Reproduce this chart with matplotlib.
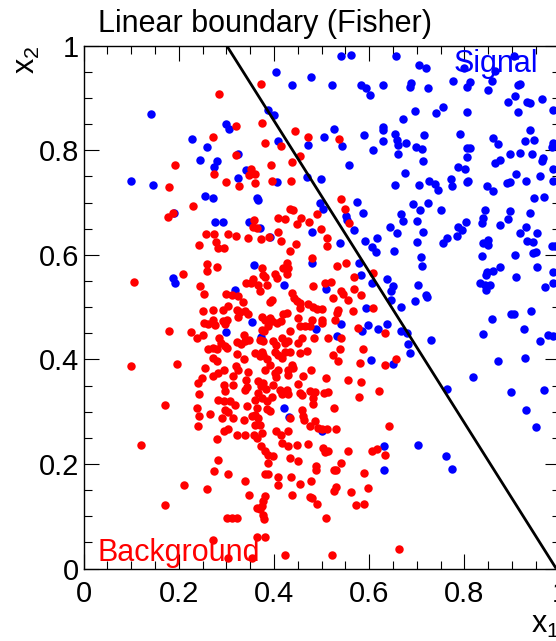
import matplotlib
matplotlib.use('Agg')
import matplotlib.pyplot as plt
from matplotlib.ticker import MultipleLocator

plt.rcParams['font.family'] = ['Liberation Sans', 'DejaVu Sans']
plt.rcParams['mathtext.fontset'] = 'custom'
plt.rcParams['mathtext.rm'] = 'Liberation Sans'
plt.rcParams['mathtext.it'] = 'Liberation Sans'
plt.rcParams['mathtext.default'] = 'regular'

title = 'Linear boundary (Fisher)'
x_label = 'x$_{1}$'
y_label = 'x$_{2}$'
signal_label = 'Signal'
background_label = 'Background'

x_ticks = [0, 0.2, 0.4, 0.6, 0.8, 1.0]
x_tick_labels = ['0', '0.2', '0.4', '0.6', '0.8', '1']
y_ticks = [0, 0.2, 0.4, 0.6, 0.8, 1.0]
y_tick_labels = ['0', '0.2', '0.4', '0.6', '0.8', '1']

# Fisher linear decision boundary (end points in data units)
fisher_x = [0.301, 0.993]
fisher_y = [1.0, 0.0]

# Signal events (x1, x2)
signal_pts = [
    (0.540, 0.981), (0.561, 0.982), (0.404, 0.950), (0.477, 0.941), (0.438, 0.924), (0.523, 0.925), (0.584, 0.925),
    (0.593, 0.920), (0.602, 0.906), (0.141, 0.870), (0.388, 0.878), (0.401, 0.868), (0.299, 0.851), (0.306, 0.841),
    (0.227, 0.822), (0.260, 0.806), (0.409, 0.817), (0.472, 0.811), (0.505, 0.825), (0.526, 0.841), (0.544, 0.809),
    (0.589, 0.829), (0.608, 0.801), (0.245, 0.782), (0.281, 0.779), (0.275, 0.768), (0.325, 0.792), (0.341, 0.762),
    (0.558, 0.771), (0.100, 0.742), (0.146, 0.733), (0.325, 0.747), (0.406, 0.739), (0.470, 0.748), (0.498, 0.746),
    (0.255, 0.712), (0.271, 0.709), (0.365, 0.709), (0.367, 0.704), (0.191, 0.681), (0.497, 0.699), (0.504, 0.688),
    (0.575, 0.701), (0.587, 0.680), (0.551, 0.674), (0.553, 0.667), (0.277, 0.662), (0.294, 0.662), (0.348, 0.663),
    (0.371, 0.651), (0.569, 0.648),
    (0.657, 0.981), (0.705, 0.963), (0.720, 0.957), (0.800, 0.957), (0.905, 0.980), (0.864, 0.951), (0.629, 0.924),
    (0.689, 0.929), (0.686, 0.922), (0.724, 0.920), (0.777, 0.932), (0.806, 0.922), (0.813, 0.930), (0.858, 0.932),
    (0.850, 0.916), (0.913, 0.925), (0.917, 0.927), (0.907, 0.904), (0.892, 0.893), (0.931, 0.892), (0.938, 0.890),
    (0.963, 0.899), (0.913, 0.874), (0.987, 0.878), (0.696, 0.876), (0.756, 0.883), (0.741, 0.871), (0.806, 0.874),
    (0.672, 0.860), (0.630, 0.845), (0.630, 0.838), (0.629, 0.818), (0.654, 0.832), (0.658, 0.820), (0.661, 0.810),
    (0.678, 0.814), (0.716, 0.829), (0.791, 0.832), (0.861, 0.823), (0.871, 0.813), (0.937, 0.839), (0.928, 0.817),
    (0.947, 0.819), (0.987, 0.814), (0.984, 0.807), (0.661, 0.792), (0.699, 0.806), (0.711, 0.802), (0.713, 0.780),
    (0.805, 0.804), (0.812, 0.804), (0.806, 0.787), (0.896, 0.792), (0.917, 0.795), (0.942, 0.792), (0.965, 0.785),
    (0.963, 0.779), (0.865, 0.776), (0.874, 0.781), (0.787, 0.768), (0.801, 0.764), (0.675, 0.757), (0.654, 0.734),
    (0.705, 0.734), (0.726, 0.742), (0.738, 0.736), (0.745, 0.725), (0.771, 0.746), (0.775, 0.731), (0.806, 0.739),
    (0.808, 0.742), (0.847, 0.732), (0.860, 0.723), (0.889, 0.737), (0.895, 0.739), (0.908, 0.754), (0.929, 0.742),
    (0.959, 0.750), (0.986, 0.764), (0.987, 0.742), (0.946, 0.709), (0.968, 0.710), (0.693, 0.698), (0.724, 0.699),
    (0.707, 0.685), (0.668, 0.679), (0.672, 0.664), (0.701, 0.664), (0.751, 0.685), (0.843, 0.686), (0.840, 0.671),
    (0.837, 0.661), (0.804, 0.662), (0.787, 0.654), (0.875, 0.658), (0.892, 0.669), (0.896, 0.683), (0.938, 0.681),
    (0.930, 0.654), (0.644, 0.653),
    (0.652, 0.608), (0.713, 0.643), (0.701, 0.625), (0.708, 0.596), (0.711, 0.579), (0.756, 0.623), (0.763, 0.632),
    (0.784, 0.637), (0.795, 0.648), (0.658, 0.642), (0.837, 0.598), (0.840, 0.623), (0.850, 0.629), (0.850, 0.618),
    (0.916, 0.642), (0.952, 0.642), (0.932, 0.626), (0.945, 0.624), (0.984, 0.616), (0.991, 0.616), (0.945, 0.604),
    (0.950, 0.605), (0.907, 0.600), (0.953, 0.577), (0.986, 0.568), (0.876, 0.577), (0.861, 0.570), (0.848, 0.567),
    (0.846, 0.562), (0.833, 0.547), (0.843, 0.543), (0.846, 0.533), (0.854, 0.543), (0.909, 0.558), (0.970, 0.539),
    (0.987, 0.546), (0.637, 0.554), (0.651, 0.540), (0.647, 0.530), (0.645, 0.513), (0.703, 0.543), (0.720, 0.524),
    (0.721, 0.519), (0.696, 0.512), (0.668, 0.500), (0.858, 0.477), (0.898, 0.486), (0.905, 0.486), (0.940, 0.492),
    (0.926, 0.459), (0.839, 0.449), (0.960, 0.435), (0.976, 0.447), (0.986, 0.444), (0.731, 0.438), (0.638, 0.468),
    (0.668, 0.454), (0.679, 0.451), (0.681, 0.430), (0.686, 0.412), (0.650, 0.391), (0.871, 0.396), (0.928, 0.403),
    (0.819, 0.367), (0.898, 0.337), (0.968, 0.342), (0.764, 0.344), (0.929, 0.304), (0.951, 0.271),
    (0.631, 0.235), (0.631, 0.189), (0.703, 0.237), (0.762, 0.215), (0.775, 0.191),
    (0.189, 0.556), (0.192, 0.547), (0.392, 0.635), (0.358, 0.581), (0.318, 0.533), (0.422, 0.543), (0.355, 0.472),
    (0.299, 0.452), (0.373, 0.442), (0.479, 0.644), (0.539, 0.623), (0.591, 0.626), (0.607, 0.615), (0.614, 0.606),
    (0.617, 0.632), (0.481, 0.585), (0.579, 0.585), (0.584, 0.562), (0.607, 0.546), (0.509, 0.535), (0.593, 0.498),
    (0.541, 0.468), (0.598, 0.465), (0.586, 0.455), (0.619, 0.459), (0.488, 0.459), (0.532, 0.444), (0.605, 0.398),
    (0.422, 0.307), (0.432, 0.290), (0.500, 0.263),
]

# Background events (x1, x2)
background_pts = [
    (0.373, 0.927), (0.285, 0.908), (0.320, 0.846), (0.375, 0.852), (0.444, 0.836), (0.472, 0.825), (0.537, 0.822),
    (0.271, 0.825), (0.382, 0.814), (0.414, 0.809), (0.320, 0.791), (0.455, 0.790), (0.193, 0.772), (0.393, 0.771),
    (0.437, 0.778), (0.274, 0.755), (0.352, 0.765), (0.348, 0.753), (0.360, 0.755), (0.299, 0.739), (0.326, 0.731),
    (0.361, 0.737), (0.397, 0.742), (0.435, 0.742), (0.180, 0.730), (0.231, 0.693), (0.178, 0.672), (0.187, 0.680),
    (0.541, 0.707), (0.549, 0.688), (0.558, 0.660), (0.434, 0.688), (0.441, 0.686), (0.409, 0.671), (0.423, 0.668),
    (0.457, 0.671), (0.448, 0.659), (0.474, 0.663), (0.491, 0.678), (0.358, 0.666), (0.357, 0.654), (0.364, 0.651),
    (0.498, 0.650),
    (0.633, 0.451), (0.657, 0.400), (0.633, 0.389), (0.642, 0.272), (0.633, 0.217), (0.663, 0.038),
    (0.106, 0.548), (0.100, 0.387), (0.179, 0.454), (0.171, 0.312), (0.121, 0.237), (0.171, 0.122),
    (0.346, 0.632), (0.373, 0.631), (0.390, 0.635), (0.409, 0.644), (0.415, 0.626), (0.257, 0.639), (0.274, 0.640),
    (0.304, 0.640), (0.320, 0.637), (0.243, 0.618), (0.278, 0.624), (0.283, 0.613), (0.296, 0.613), (0.259, 0.583),
    (0.259, 0.570), (0.280, 0.577), (0.210, 0.564), (0.376, 0.575), (0.378, 0.562), (0.381, 0.557), (0.402, 0.564),
    (0.406, 0.556), (0.420, 0.574), (0.357, 0.553), (0.341, 0.546), (0.352, 0.546), (0.367, 0.543), (0.371, 0.530),
    (0.385, 0.542), (0.245, 0.540), (0.254, 0.525), (0.300, 0.525), (0.311, 0.524), (0.325, 0.521), (0.336, 0.509),
    (0.392, 0.510), (0.395, 0.514), (0.250, 0.492), (0.271, 0.495), (0.294, 0.495), (0.303, 0.503), (0.322, 0.495),
    (0.329, 0.491), (0.339, 0.492), (0.346, 0.486), (0.325, 0.482), (0.254, 0.470), (0.273, 0.476), (0.276, 0.465),
    (0.294, 0.473), (0.297, 0.467), (0.301, 0.476), (0.262, 0.467), (0.374, 0.482), (0.381, 0.476), (0.392, 0.480),
    (0.395, 0.473), (0.388, 0.463), (0.380, 0.454), (0.374, 0.457), (0.406, 0.470), (0.415, 0.474), (0.420, 0.487),
    (0.226, 0.453), (0.238, 0.440), (0.250, 0.447), (0.285, 0.440), (0.289, 0.432), (0.297, 0.425), (0.301, 0.421),
    (0.338, 0.447), (0.339, 0.435), (0.348, 0.438), (0.322, 0.433), (0.331, 0.430), (0.378, 0.435), (0.371, 0.438),
    (0.399, 0.436), (0.404, 0.428), (0.416, 0.441), (0.262, 0.419), (0.273, 0.421), (0.280, 0.419), (0.322, 0.411),
    (0.338, 0.401), (0.360, 0.412), (0.371, 0.406), (0.374, 0.415), (0.378, 0.409), (0.385, 0.401), (0.402, 0.415),
    (0.409, 0.409), (0.416, 0.403), (0.271, 0.403), (0.280, 0.396), (0.196, 0.391), (0.255, 0.384), (0.283, 0.374),
    (0.296, 0.380), (0.320, 0.387), (0.325, 0.380), (0.381, 0.380), (0.392, 0.390), (0.402, 0.374), (0.409, 0.380),
    (0.346, 0.375),
    (0.511, 0.633), (0.512, 0.616), (0.446, 0.620), (0.434, 0.607), (0.481, 0.594), (0.551, 0.585), (0.532, 0.579),
    (0.427, 0.585), (0.429, 0.575), (0.427, 0.563), (0.568, 0.557), (0.608, 0.565), (0.507, 0.546), (0.520, 0.548),
    (0.483, 0.540), (0.542, 0.530), (0.546, 0.525), (0.568, 0.535), (0.583, 0.524), (0.525, 0.518), (0.556, 0.514),
    (0.437, 0.527), (0.443, 0.518), (0.448, 0.512), (0.455, 0.508), (0.455, 0.498), (0.472, 0.506), (0.483, 0.500),
    (0.490, 0.497), (0.500, 0.497), (0.535, 0.495), (0.532, 0.489), (0.567, 0.492), (0.609, 0.498), (0.427, 0.489),
    (0.451, 0.480), (0.481, 0.476), (0.502, 0.476), (0.502, 0.470), (0.528, 0.476), (0.455, 0.463), (0.465, 0.463),
    (0.476, 0.463), (0.434, 0.454), (0.576, 0.461), (0.430, 0.435), (0.451, 0.432), (0.458, 0.441), (0.485, 0.441),
    (0.513, 0.440), (0.541, 0.440), (0.423, 0.415), (0.434, 0.415), (0.455, 0.412), (0.469, 0.417), (0.587, 0.419),
    (0.539, 0.419), (0.524, 0.409), (0.535, 0.396), (0.581, 0.393), (0.437, 0.390), (0.441, 0.384), (0.430, 0.380),
    (0.478, 0.379), (0.423, 0.432),
    (0.248, 0.365), (0.241, 0.355), (0.273, 0.368), (0.315, 0.368), (0.341, 0.361), (0.367, 0.358), (0.378, 0.355),
    (0.399, 0.352), (0.315, 0.352), (0.295, 0.352), (0.297, 0.339), (0.339, 0.342), (0.343, 0.347), (0.373, 0.349),
    (0.383, 0.344), (0.243, 0.333), (0.366, 0.336), (0.376, 0.326), (0.413, 0.342), (0.418, 0.333), (0.404, 0.366),
    (0.283, 0.323), (0.296, 0.321), (0.308, 0.320), (0.318, 0.312), (0.360, 0.323), (0.385, 0.320), (0.395, 0.329),
    (0.364, 0.307), (0.385, 0.306), (0.392, 0.301), (0.343, 0.310), (0.238, 0.308), (0.266, 0.296), (0.243, 0.291),
    (0.297, 0.304), (0.304, 0.300), (0.290, 0.288), (0.315, 0.288), (0.353, 0.291), (0.360, 0.294), (0.367, 0.288),
    (0.337, 0.284), (0.240, 0.272), (0.360, 0.275), (0.371, 0.274), (0.295, 0.264), (0.304, 0.267), (0.404, 0.263),
    (0.415, 0.256), (0.322, 0.255), (0.339, 0.255), (0.359, 0.256), (0.364, 0.250), (0.376, 0.259), (0.280, 0.247),
    (0.418, 0.240), (0.373, 0.234), (0.381, 0.224), (0.388, 0.218), (0.399, 0.215), (0.387, 0.202), (0.282, 0.208),
    (0.275, 0.187), (0.303, 0.181), (0.381, 0.180), (0.388, 0.181), (0.409, 0.176), (0.409, 0.159), (0.211, 0.159),
    (0.259, 0.153), (0.339, 0.167), (0.348, 0.141), (0.381, 0.138), (0.378, 0.129), (0.376, 0.119), (0.364, 0.116),
    (0.371, 0.113), (0.378, 0.103), (0.380, 0.094), (0.301, 0.097), (0.311, 0.096), (0.322, 0.097), (0.271, 0.054),
    (0.364, 0.061), (0.381, 0.060), (0.304, 0.020), (0.353, 0.020), (0.423, 0.025),
    (0.509, 0.365), (0.556, 0.361), (0.584, 0.357), (0.621, 0.339), (0.579, 0.329), (0.527, 0.307), (0.514, 0.338),
    (0.506, 0.336), (0.607, 0.224), (0.617, 0.229), (0.556, 0.224), (0.542, 0.201), (0.590, 0.182), (0.598, 0.154),
    (0.563, 0.146), (0.572, 0.122), (0.590, 0.124), (0.509, 0.096), (0.521, 0.025), (0.526, 0.189), (0.530, 0.188),
    (0.527, 0.148), (0.530, 0.156), (0.488, 0.196), (0.488, 0.189), (0.491, 0.124), (0.476, 0.137), (0.481, 0.134),
    (0.477, 0.167), (0.455, 0.161), (0.439, 0.140), (0.435, 0.176), (0.434, 0.212), (0.451, 0.206), (0.449, 0.237),
    (0.471, 0.238), (0.430, 0.234), (0.504, 0.231), (0.507, 0.223), (0.514, 0.224), (0.430, 0.264), (0.476, 0.272),
    (0.486, 0.282), (0.493, 0.269), (0.500, 0.266), (0.512, 0.266), (0.530, 0.267), (0.458, 0.304), (0.462, 0.291),
    (0.464, 0.285), (0.434, 0.288), (0.483, 0.315), (0.476, 0.339), (0.486, 0.338), (0.483, 0.326), (0.455, 0.336),
    (0.458, 0.331), (0.451, 0.353), (0.427, 0.342), (0.429, 0.333), (0.462, 0.368), (0.430, 0.370),
]

sig_x = [p[0] for p in signal_pts]
sig_y = [p[1] for p in signal_pts]
bkg_x = [p[0] for p in background_pts]
bkg_y = [p[1] for p in background_pts]

BLUE = '#0000ff'
RED = '#ff0000'

fig = plt.figure(figsize=(5.56, 6.41), dpi=100)
ax = fig.add_axes([0.1502, 0.1131, 0.8561, 0.8155])

ax.scatter(sig_x, sig_y, s=37, c=BLUE, linewidths=0, zorder=2)
ax.scatter(bkg_x, bkg_y, s=37, c=RED, linewidths=0, zorder=3)
ax.plot(fisher_x, fisher_y, color='black', lw=2.0, zorder=4, solid_capstyle='butt')

ax.set_xlim(0, 1)
ax.set_ylim(0, 1)
ax.set_xticks(x_ticks, x_tick_labels)
ax.set_yticks(y_ticks, y_tick_labels)
ax.xaxis.set_minor_locator(MultipleLocator(0.05))
ax.yaxis.set_minor_locator(MultipleLocator(0.05))
ax.tick_params(which='both', direction='in', top=True, right=True, color='black', width=0.8)
ax.tick_params(which='major', length=11, labelsize=21)
ax.tick_params(axis='x', which='major', pad=8)
ax.tick_params(axis='y', which='major', pad=3)
ax.tick_params(which='minor', length=5.5)
for sp in ax.spines.values():
    sp.set_linewidth(1.0)

ax.text(0.778, 0.949, signal_label, color=BLUE, fontsize=22, ha='left', va='baseline',
        transform=ax.transAxes, zorder=5)
ax.text(0.029, 0.014, background_label, color=RED, fontsize=22, ha='left', va='baseline',
        transform=ax.transAxes, zorder=5)

ax.text(1.0, -0.1224, x_label, fontsize=22, ha='right', va='baseline', transform=ax.transAxes)
ax.text(-0.118, 1.0, y_label, fontsize=22, ha='center', va='top', rotation=90, transform=ax.transAxes)

fig.text(97.5 / 556, 1 - 32 / 641, title, fontsize=22, ha='left', va='baseline')

fig.savefig('out.png', dpi=100)
